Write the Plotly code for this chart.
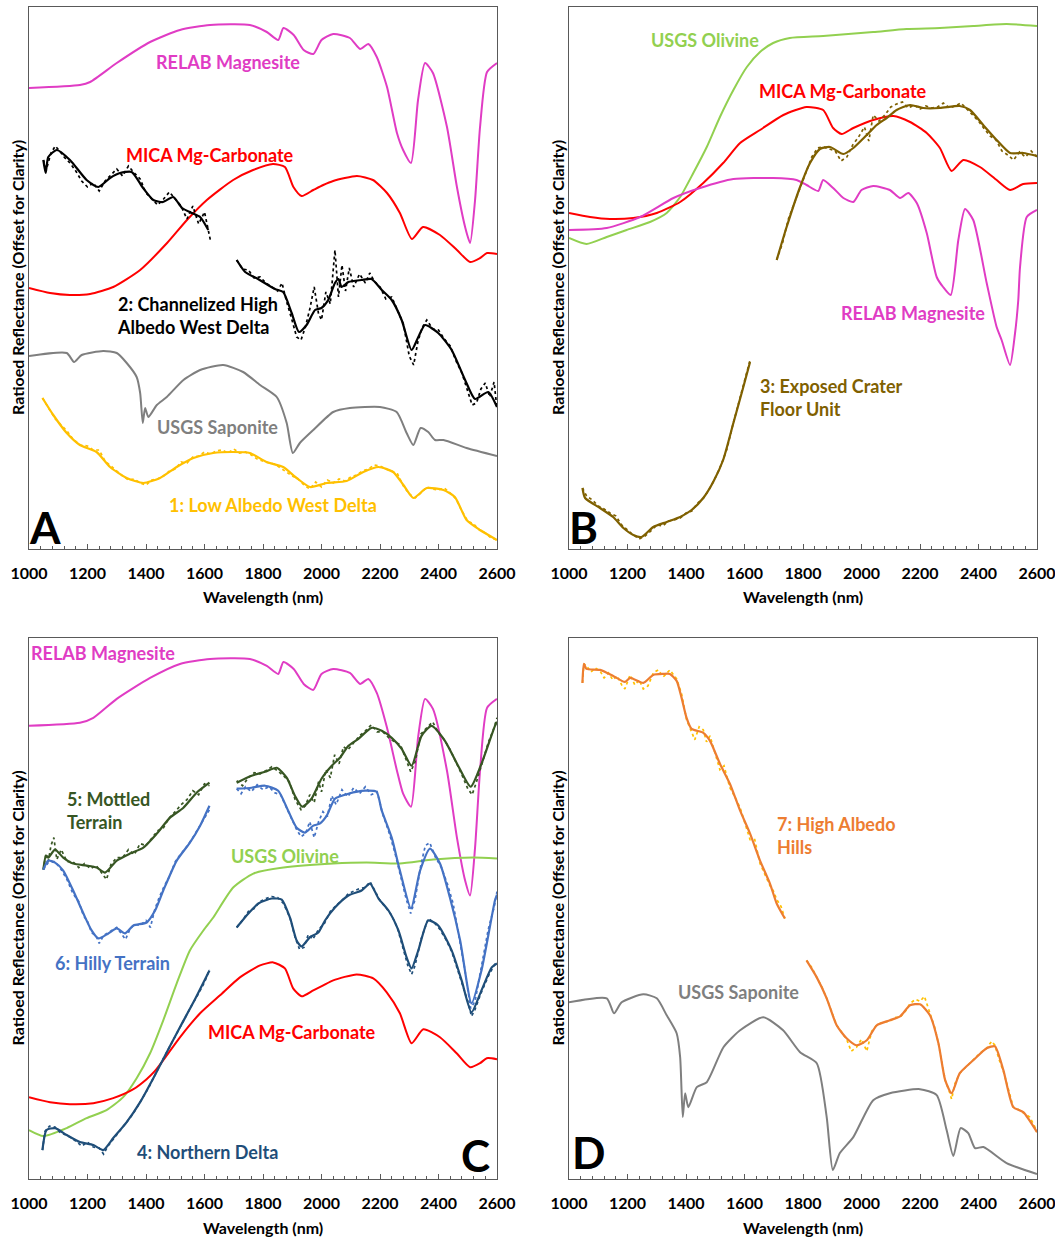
import plotly.graph_objects as go

# ---------------------------------------------------------------------------
# Spectra (wavelength in nm, ratioed reflectance in arbitrary offset units)
# ---------------------------------------------------------------------------

# ----- Panel A -----
a_mag_wl = [1000, 1174, 1209, 1300, 1414, 1516, 1619, 1755, 1813, 1852, 1870, 1905, 1939, 1972, 2000, 2040,
            2097, 2132, 2160, 2189, 2224, 2258, 2279, 2306, 2330, 2354, 2381, 2429, 2463, 2491, 2508, 2525,
            2542, 2566, 2600]
a_mag = [461, 464, 467, 486, 507, 519, 524, 524, 517, 509, 521, 514, 499, 495, 509, 515,
         511, 500, 505, 492, 462, 416, 399, 386, 449, 486, 476, 422, 362, 322, 306, 349,
         422, 477, 486]

a_mica_wl = [1000, 1072, 1140, 1209, 1288, 1380, 1472, 1540, 1608, 1698, 1766, 1834, 1875, 1904, 1932, 1972,
             2006, 2040, 2121, 2176, 2224, 2268, 2309, 2347, 2405, 2463, 2508, 2542, 2566, 2600]
a_mica = [261, 256, 254, 255, 262, 279, 306, 329, 349, 369, 379, 385, 382, 362, 353, 359,
          364, 368, 373, 369, 356, 336, 310, 322, 314, 299, 287, 291, 296, 295]

sap_wl = [1000, 1129, 1154, 1180, 1254, 1300, 1334, 1368, 1380, 1389, 1397, 1408, 1437, 1471, 1528, 1585,
          1664, 1732, 1790, 1847, 1881, 1902, 1926, 1972, 2040, 2097, 2200, 2257, 2291, 2314, 2339, 2365,
          2388, 2417, 2496, 2600]
a_sap = [193, 196, 187, 194, 198, 196, 186, 172, 156, 126, 141, 132, 144, 152, 169, 179,
         184, 177, 164, 152, 126, 96, 106, 119, 137, 141, 142, 137, 116, 104, 121, 117,
         109, 109, 101, 93]

s1_wl = [1046, 1083, 1129, 1174, 1231, 1277, 1334, 1391, 1448, 1505, 1562, 1630, 1698, 1755, 1812, 1869,
         1915, 1961, 2018, 2086, 2143, 2195, 2245, 2280, 2314, 2360, 2417, 2456, 2496, 2542, 2600]
s1 = [151, 134, 116, 104, 97, 82, 71, 66, 71, 82, 91, 96, 97, 96, 87, 82,
      71, 62, 66, 68, 77, 82, 77, 64, 51, 61, 59, 52, 29, 19, 9]
s1_raw_wl = [1046, 1070, 1090, 1110, 1130, 1150, 1175, 1200, 1220, 1240, 1260, 1280, 1300, 1320, 1340, 1360,
             1380, 1400, 1420, 1440, 1460, 1480, 1500, 1520, 1540, 1560, 1580, 1600, 1620, 1640, 1660, 1680,
             1700, 1720, 1740, 1760, 1780, 1800, 1820, 1840, 1860, 1880, 1900, 1920, 1940, 1960, 1980, 2000,
             2020, 2040, 2060, 2080, 2100, 2120, 2140, 2160, 2180, 2200, 2220, 2240, 2260, 2280, 2300, 2320,
             2340, 2360, 2380, 2400, 2420, 2440, 2460, 2480, 2500, 2520, 2540, 2560, 2580, 2600]
s1_raw = [151, 140, 130, 124, 118, 110, 104, 103, 99, 99, 88, 83, 78, 73, 69, 70,
          66, 64, 69, 70, 73, 78, 80, 87, 86, 92, 93, 97, 95, 98, 99, 96,
          100, 96, 97, 94, 90, 88, 86, 85, 81, 77, 73, 70, 64, 60, 67, 62,
          69, 66, 70, 68, 72, 74, 78, 80, 84, 83, 80, 78, 75, 63, 55, 51,
          56, 62, 60, 59, 61, 56, 50, 38, 28, 25, 19, 16, 11, 9]

s2a_wl = [1049, 1057, 1066, 1095, 1140, 1197, 1237, 1277, 1311, 1351, 1390, 1425, 1458, 1493, 1523, 1557,
          1585, 1613]
s2a = [389, 376, 392, 399, 389, 369, 362, 371, 376, 377, 361, 349, 347, 352, 341, 336,
       332, 319]
s2a_raw_wl = [1049, 1060, 1075, 1090, 1105, 1120, 1140, 1160, 1180, 1200, 1220, 1240, 1260, 1280, 1300, 1320,
              1340, 1360, 1380, 1400, 1420, 1440, 1460, 1480, 1500, 1520, 1540, 1560, 1580, 1600, 1620]
s2a_raw = [389, 380, 396, 403, 398, 392, 386, 378, 368, 362, 366, 358, 368, 374, 380, 373,
           383, 376, 370, 356, 350, 344, 350, 357, 350, 343, 330, 343, 325, 337, 309]

s2b_wl = [1710, 1739, 1783, 1841, 1869, 1898, 1923, 1949, 1978, 2000, 2023, 2046, 2058, 2069, 2092, 2137,
          2171, 2206, 2240, 2274, 2308, 2331, 2354, 2399, 2445, 2491, 2525, 2570, 2600]
s2b = [289, 277, 270, 260, 257, 236, 217, 224, 239, 241, 249, 266, 270, 262, 267, 269,
       270, 259, 249, 229, 199, 212, 224, 216, 199, 169, 150, 157, 142]
s2b_raw_wl = [1710, 1730, 1750, 1770, 1790, 1810, 1830, 1850, 1865, 1880, 1900, 1915, 1930, 1945, 1960, 1975,
              1990, 2000, 2015, 2030, 2046, 2058, 2070, 2082, 2095, 2110, 2130, 2150, 2165, 2180, 2200, 2220,
              2240, 2260, 2280, 2300, 2315, 2330, 2345, 2360, 2380, 2400, 2420, 2440, 2460, 2480, 2500, 2515,
              2530, 2545, 2560, 2575, 2590, 2600]
s2b_raw = [289, 280, 279, 271, 272, 266, 262, 258, 266, 248, 228, 212, 209, 222, 240, 262,
           235, 229, 257, 245, 299, 252, 284, 258, 281, 262, 275, 266, 276, 268, 262, 250,
           252, 238, 225, 193, 184, 208, 222, 229, 220, 219, 210, 203, 188, 176, 158, 144,
           146, 160, 166, 152, 167, 140]

# ----- Panel B -----
b_olv_wl = [1000, 1060, 1129, 1197, 1277, 1334, 1380, 1425, 1471, 1516, 1562, 1608, 1653, 1698, 1755, 1869,
            2040, 2154, 2268, 2382, 2496, 2600]
b_olv = [311, 305, 312, 319, 327, 336, 352, 376, 402, 432, 459, 482, 497, 506, 511, 513,
         517, 520, 521, 523, 525, 523]

b_mica_wl = [1000, 1072, 1140, 1220, 1300, 1380, 1459, 1527, 1585, 1653, 1733, 1812, 1869, 1903, 1932, 1972,
             2040, 2109, 2166, 2223, 2268, 2308, 2348, 2405, 2462, 2508, 2553, 2600]
b_mica = [336, 332, 330, 331, 336, 347, 366, 386, 406, 419, 434, 442, 439, 421, 415, 421,
          429, 433, 427, 416, 401, 378, 389, 382, 369, 359, 365, 366]

b_mag_wl = [1000, 1129, 1243, 1357, 1448, 1562, 1698, 1778, 1812, 1852, 1869, 1903, 1938, 1972, 2000, 2040,
            2097, 2132, 2160, 2189, 2223, 2257, 2279, 2305, 2331, 2354, 2382, 2428, 2462, 2479, 2508, 2525,
            2536, 2542, 2565, 2600]
b_mag = [319, 321, 332, 351, 361, 370, 371, 369, 364, 358, 369, 361, 351, 347, 359, 363,
         359, 351, 356, 346, 316, 272, 262, 254, 309, 340, 329, 266, 222, 209, 184, 216,
         249, 282, 332, 339]

s3a_wl = [1046, 1055, 1106, 1151, 1186, 1220, 1248, 1288, 1334, 1380, 1419, 1459, 1493, 1527, 1562, 1596, 1619]
s3a = [61, 51, 41, 32, 21, 14, 12, 22, 27, 32, 39, 51, 67, 89, 126, 162, 187]
s3a_raw_wl = [1046, 1060, 1080, 1100, 1120, 1140, 1160, 1180, 1200, 1220, 1240, 1260, 1280, 1300, 1320, 1340,
              1360, 1380, 1400, 1420, 1440, 1460, 1480, 1500, 1520, 1540, 1560, 1580, 1600, 1620]
s3a_raw = [61, 53, 49, 43, 40, 36, 33, 24, 19, 14, 10, 13, 18, 24, 23, 28,
           29, 31, 36, 38, 46, 51, 60, 71, 84, 100, 124, 146, 168, 190]

s3b_wl = [1710, 1744, 1790, 1824, 1858, 1892, 1938, 1972, 2018, 2052, 2086, 2120, 2166, 2211, 2268, 2336,
          2371, 2416, 2462, 2508, 2553, 2600]
s3b = [289, 322, 362, 386, 400, 402, 395, 401, 414, 424, 431, 439, 444, 441, 441, 443,
       439, 424, 409, 396, 396, 393]
s3b_raw_wl = [1710, 1730, 1750, 1770, 1790, 1810, 1830, 1850, 1870, 1890, 1910, 1930, 1950, 1970, 1990, 2010,
              2025, 2040, 2060, 2080, 2100, 2120, 2140, 2160, 2180, 2200, 2220, 2240, 2260, 2280, 2300, 2320,
              2340, 2360, 2380, 2400, 2420, 2440, 2460, 2480, 2500, 2520, 2540, 2560, 2580, 2600]
s3b_raw = [289, 306, 330, 345, 362, 376, 392, 401, 402, 400, 398, 388, 392, 404, 412, 422,
           408, 434, 428, 434, 442, 445, 447, 441, 444, 440, 443, 441, 442, 446, 441, 443,
           446, 440, 434, 428, 420, 413, 409, 398, 394, 389, 397, 392, 398, 392]

# ----- Panel C -----
c_mag_wl = [1000, 1174, 1220, 1300, 1414, 1516, 1619, 1755, 1813, 1852, 1870, 1905, 1939, 1972, 2000, 2040,
            2097, 2132, 2160, 2189, 2224, 2258, 2279, 2306, 2330, 2354, 2381, 2429, 2463, 2491, 2508, 2525,
            2542, 2566, 2600]
c_mag = [454, 457, 462, 481, 502, 516, 521, 521, 514, 506, 518, 511, 496, 490, 506, 511,
         507, 496, 501, 487, 452, 409, 386, 373, 442, 481, 471, 409, 342, 299, 284, 332,
         409, 472, 481]

c_olv_wl = [1000, 1049, 1129, 1197, 1265, 1322, 1368, 1414, 1459, 1505, 1550, 1596, 1630, 1698, 1767, 1870,
            2040, 2154, 2268, 2382, 2519, 2600]
c_olv = [49, 43, 51, 61, 69, 82, 101, 126, 159, 196, 229, 249, 262, 292, 306, 312,
         316, 317, 316, 320, 322, 321]

c_mica_wl = [1000, 1072, 1140, 1220, 1288, 1357, 1402, 1430, 1459, 1516, 1585, 1653, 1721, 1790, 1835, 1875,
             1903, 1932, 1972, 2006, 2040, 2120, 2177, 2223, 2268, 2308, 2348, 2405, 2462, 2508, 2542, 2565,
             2600]
c_mica = [82, 77, 75, 76, 81, 90, 100, 108, 119, 142, 166, 184, 202, 214, 217, 211,
          191, 183, 189, 194, 199, 205, 201, 187, 166, 136, 150, 142, 126, 112, 116, 121,
          120]

s4a_wl = [1046, 1060, 1089, 1129, 1174, 1220, 1254, 1288, 1334, 1380, 1425, 1471, 1516, 1562, 1617]
s4a = [29, 49, 51, 44, 37, 34, 29, 41, 57, 77, 101, 127, 152, 177, 209]
s4a_raw_wl = [1046, 1055, 1070, 1089, 1105, 1120, 1140, 1160, 1180, 1200, 1220, 1240, 1255, 1270, 1290, 1310,
              1334, 1350, 1370, 1390, 1410, 1425, 1440, 1460, 1480, 1500, 1520, 1540, 1560, 1580, 1600, 1617]
s4a_raw = [29, 48, 53, 52, 47, 45, 42, 38, 33, 37, 32, 31, 25, 33, 41, 48,
           57, 63, 72, 82, 92, 101, 110, 121, 132, 143, 154, 166, 176, 186, 197, 210]

s4b_wl = [1710, 1750, 1784, 1830, 1864, 1892, 1915, 1932, 1960, 1989, 2012, 2046, 2092, 2137, 2166, 2195,
          2229, 2263, 2291, 2308, 2331, 2365, 2399, 2445, 2479, 2513, 2547, 2582, 2600]
s4b = [252, 266, 276, 281, 280, 262, 239, 233, 242, 247, 259, 272, 284, 289, 296, 281,
       269, 249, 222, 211, 229, 259, 254, 229, 199, 167, 189, 212, 216]
s4b_raw_wl = [1710, 1730, 1750, 1770, 1790, 1810, 1830, 1850, 1870, 1892, 1910, 1925, 1940, 1955, 1970, 1990,
              2010, 2030, 2050, 2070, 2092, 2110, 2130, 2150, 2166, 2180, 2200, 2220, 2240, 2260, 2280, 2295,
              2308, 2320, 2340, 2365, 2385, 2405, 2425, 2445, 2465, 2485, 2500, 2513, 2525, 2545, 2570, 2590, 2600]
s4b_raw = [252, 259, 268, 271, 278, 281, 283, 282, 276, 262, 242, 230, 232, 245, 240, 250,
           256, 268, 274, 279, 286, 288, 291, 292, 298, 290, 279, 272, 264, 251, 230, 214,
           205, 214, 240, 261, 257, 250, 240, 228, 210, 193, 178, 163, 170, 186, 203, 214, 218]

s5a_wl = [1049, 1058, 1066, 1089, 1117, 1151, 1197, 1231, 1260, 1300, 1345, 1391, 1437, 1482, 1528, 1573, 1617]
s5a = [310, 324, 322, 330, 322, 316, 314, 312, 307, 319, 326, 332, 346, 362, 372, 387, 397]
s5a_raw_wl = [1049, 1058, 1066, 1075, 1085, 1095, 1110, 1130, 1150, 1170, 1190, 1210, 1230, 1250, 1265, 1280,
              1300, 1320, 1340, 1360, 1380, 1400, 1420, 1440, 1460, 1480, 1500, 1520, 1540, 1560, 1580, 1600, 1617]
s5a_raw = [310, 326, 318, 334, 342, 320, 330, 318, 318, 312, 316, 311, 314, 306, 300, 315,
           322, 322, 330, 325, 336, 334, 342, 349, 352, 362, 368, 375, 380, 389, 385, 396, 394]

s5b_wl = [1710, 1761, 1807, 1847, 1881, 1909, 1934, 1966, 2000, 2035, 2063, 2092, 2126, 2171, 2206, 2240,
          2274, 2308, 2342, 2376, 2422, 2467, 2510, 2547, 2593, 2600]
s5b = [397, 404, 408, 412, 402, 384, 373, 381, 401, 414, 422, 434, 441, 452, 449, 442,
       431, 414, 444, 454, 439, 414, 393, 416, 454, 458]
s5b_raw_wl = [1710, 1730, 1750, 1770, 1790, 1810, 1830, 1850, 1870, 1890, 1910, 1930, 1945, 1960, 1975, 1990,
              2000, 2015, 2030, 2045, 2060, 2075, 2090, 2110, 2130, 2150, 2170, 2190, 2210, 2230, 2250, 2270,
              2290, 2305, 2320, 2340, 2360, 2380, 2400, 2420, 2440, 2460, 2480, 2500, 2515, 2530, 2550, 2570,
              2590, 2600]
s5b_raw = [399, 394, 402, 407, 406, 409, 413, 409, 404, 398, 380, 370, 374, 385, 377, 398,
           388, 410, 402, 425, 416, 433, 430, 437, 444, 449, 455, 448, 448, 442, 438, 435,
           420, 408, 418, 446, 452, 458, 447, 440, 430, 418, 405, 391, 385, 398, 418, 437,
           452, 462]

s6a_wl = [1049, 1066, 1089, 1117, 1151, 1186, 1214, 1237, 1271, 1300, 1328, 1357, 1402, 1431, 1459, 1505,
          1550, 1585, 1617]
s6a = [310, 319, 317, 309, 289, 266, 249, 241, 246, 251, 246, 254, 257, 269, 289, 319,
       337, 354, 374]
s6a_raw_wl = [1049, 1066, 1089, 1110, 1130, 1150, 1170, 1186, 1200, 1214, 1230, 1240, 1255, 1271, 1285, 1300,
              1315, 1330, 1345, 1360, 1380, 1400, 1415, 1430, 1445, 1460, 1480, 1500, 1520, 1540, 1560, 1580,
              1600, 1617]
s6a_raw = [310, 317, 318, 310, 300, 286, 278, 264, 258, 247, 243, 236, 244, 247, 250, 252,
           246, 240, 250, 255, 254, 259, 252, 270, 282, 292, 303, 318, 326, 333, 342, 352,
           362, 370]

s6b_wl = [1710, 1761, 1807, 1852, 1886, 1915, 1943, 1972, 1994, 2018, 2046, 2092, 2149, 2188, 2206, 2240,
          2268, 2306, 2337, 2371, 2405, 2439, 2474, 2513, 2547, 2593, 2600]
s6b = [391, 392, 394, 389, 369, 352, 347, 354, 356, 364, 381, 386, 389, 388, 369, 342,
       309, 271, 309, 331, 316, 282, 239, 176, 209, 279, 285]
s6b_raw_wl = [1710, 1725, 1740, 1760, 1780, 1800, 1820, 1840, 1860, 1880, 1900, 1915, 1930, 1945, 1960, 1975,
              1990, 2005, 2020, 2035, 2050, 2070, 2090, 2110, 2130, 2150, 2170, 2190, 2210, 2230, 2250, 2270,
              2290, 2305, 2320, 2340, 2355, 2370, 2390, 2410, 2430, 2450, 2470, 2490, 2510, 2525, 2545, 2570,
              2590, 2600]
s6b_raw = [391, 386, 393, 388, 395, 390, 393, 387, 385, 372, 360, 350, 343, 346, 358, 342,
           358, 368, 363, 384, 375, 390, 383, 392, 386, 393, 385, 388, 365, 348, 328, 305,
           280, 266, 280, 315, 334, 337, 322, 312, 296, 276, 245, 210, 171, 178, 210, 250,
           272, 288]

# ----- Panel D -----
d_sap = [177, 181, 166, 177, 185, 181, 164, 146, 122, 62, 86, 72, 92, 97, 132, 149,
         162, 149, 127, 116, 62, 9, 26, 42, 79, 86, 90, 84, 49, 23, 51, 46,
         31, 32, 16, 5]

s7a_wl = [1046, 1051, 1060, 1106, 1151, 1191, 1209, 1254, 1288, 1322, 1345, 1368, 1385, 1402, 1419, 1459,
          1482, 1516, 1550, 1585, 1619, 1653, 1687, 1710, 1738]
s7a = [497, 516, 511, 510, 504, 498, 502, 497, 505, 506, 506, 499, 482, 462, 451, 447,
       439, 416, 396, 369, 346, 319, 296, 276, 261]
s7a_raw_wl = [1046, 1051, 1060, 1075, 1090, 1106, 1120, 1135, 1150, 1165, 1180, 1191, 1209, 1225, 1240, 1254,
              1270, 1288, 1305, 1322, 1345, 1368, 1385, 1402, 1419, 1430, 1445, 1459, 1470, 1482, 1500, 1516,
              1530, 1550, 1565, 1585, 1600, 1619, 1635, 1653, 1670, 1687, 1700, 1710, 1725, 1738]
s7a_raw = [497, 516, 514, 508, 512, 509, 502, 507, 500, 504, 495, 491, 505, 495, 500, 491,
           494, 507, 510, 503, 510, 501, 486, 460, 448, 440, 453, 450, 438, 444, 426, 410,
           414, 392, 384, 372, 358, 340, 340, 316, 305, 294, 288, 280, 273, 261]

s7b_wl = [1812, 1847, 1881, 1915, 1949, 1983, 2018, 2052, 2097, 2132, 2166, 2200, 2234, 2263, 2286, 2308,
          2336, 2382, 2428, 2456, 2485, 2519, 2553, 2600]
s7b = [219, 202, 181, 154, 141, 134, 139, 154, 159, 163, 174, 175, 164, 136, 99, 86,
       106, 119, 131, 133, 109, 72, 67, 47]
s7b_raw_wl = [1812, 1830, 1847, 1865, 1881, 1900, 1915, 1930, 1949, 1965, 1983, 2000, 2018, 2035, 2052, 2070,
              2097, 2115, 2132, 2150, 2166, 2185, 2200, 2215, 2234, 2250, 2263, 2275, 2286, 2300, 2308, 2320,
              2336, 2360, 2382, 2405, 2428, 2445, 2456, 2470, 2485, 2500, 2519, 2535, 2553, 2575, 2590, 2600]
s7b_raw = [219, 212, 202, 192, 181, 165, 154, 148, 140, 128, 132, 140, 128, 148, 154, 157,
           158, 162, 162, 168, 176, 180, 178, 183, 165, 152, 136, 118, 99, 88, 80, 96,
           106, 113, 119, 126, 131, 138, 134, 120, 108, 92, 72, 70, 66, 62, 54, 47]

# ---------------------------------------------------------------------------
# Colours
# ---------------------------------------------------------------------------
MAG = "#E03CC4"
MICA = "#FF0000"
SAP = "#7F7F7F"
OLV = "#92D050"
C1 = "#FFC000"
C2 = "#000000"
C3 = "#7F6000"
C4 = "#1F4E79"
C5 = "#375623"
C6 = "#4472C4"
C7 = "#ED7D31"
FONT = "Lato"

fig = go.Figure()


def add_line(panel, wl, vals, color, width=2.0, dash="solid", smooth=True):
    ax = "" if panel == 1 else str(panel)
    fig.add_trace(go.Scatter(
        x=wl, y=vals, mode="lines", xaxis="x" + ax, yaxis="y" + ax,
        line=dict(color=color, width=width, dash=dash,
                  shape="spline" if smooth else "linear", smoothing=0.6),
        hoverinfo="skip", showlegend=False))


def add_spectrum(panel, raw_wl, raw, wl, vals, color, raw_color=None):
    add_line(panel, raw_wl, raw, raw_color or color, width=1.7, dash="dot", smooth=False)
    add_line(panel, wl, vals, color, width=2.2)


# Panel A
add_line(1, a_mag_wl, a_mag, MAG)
add_line(1, a_mica_wl, a_mica, MICA)
add_line(1, sap_wl, a_sap, SAP)
add_spectrum(1, s1_raw_wl, s1_raw, s1_wl, s1, C1)
add_spectrum(1, s2a_raw_wl, s2a_raw, s2a_wl, s2a, C2)
add_spectrum(1, s2b_raw_wl, s2b_raw, s2b_wl, s2b, C2)

# Panel B
add_line(2, b_olv_wl, b_olv, OLV)
add_line(2, b_mica_wl, b_mica, MICA)
add_line(2, b_mag_wl, b_mag, MAG)
add_spectrum(2, s3a_raw_wl, s3a_raw, s3a_wl, s3a, C3)
add_spectrum(2, s3b_raw_wl, s3b_raw, s3b_wl, s3b, C3)

# Panel C
add_line(3, c_mag_wl, c_mag, MAG)
add_line(3, c_olv_wl, c_olv, OLV)
add_line(3, c_mica_wl, c_mica, MICA)
add_spectrum(3, s5a_raw_wl, s5a_raw, s5a_wl, s5a, C5)
add_spectrum(3, s5b_raw_wl, s5b_raw, s5b_wl, s5b, C5)
add_spectrum(3, s6a_raw_wl, s6a_raw, s6a_wl, s6a, C6)
add_spectrum(3, s6b_raw_wl, s6b_raw, s6b_wl, s6b, C6)
add_spectrum(3, s4a_raw_wl, s4a_raw, s4a_wl, s4a, C4)
add_spectrum(3, s4b_raw_wl, s4b_raw, s4b_wl, s4b, C4)

# Panel D
add_line(4, sap_wl, d_sap, SAP)
add_spectrum(4, s7a_raw_wl, s7a_raw, s7a_wl, s7a, C7, raw_color=C1)
add_spectrum(4, s7b_raw_wl, s7b_raw, s7b_wl, s7b, C7, raw_color=C1)

# ---------------------------------------------------------------------------
# Axes
# ---------------------------------------------------------------------------
W, H = 1055, 1239
dom_x = {1: (29, 497), 2: (569, 1037), 3: (29, 497), 4: (569, 1037)}
dom_y = {1: (7, 549), 2: (7, 549), 3: (638, 1179), 4: (638, 1179)}
AXCOL = "#595959"

layout = dict(
    width=W, height=H, margin=dict(l=0, r=0, t=0, b=0, autoexpand=False),
    paper_bgcolor="white", plot_bgcolor="white",
    font=dict(family=FONT, color="black"),
    showlegend=False,
)
for p in range(1, 5):
    ax = "" if p == 1 else str(p)
    x0, x1 = dom_x[p]
    y0, y1 = dom_y[p]
    layout["xaxis" + ax] = dict(
        domain=[x0 / W, x1 / W], anchor="y" + ax, range=[1000, 2600], automargin=False,
        tickmode="linear", tick0=1000, dtick=200,
        ticks="inside", ticklen=5, tickwidth=1, tickcolor=AXCOL,
        minor=dict(dtick=40, tick0=1000, ticks="inside", ticklen=3, tickwidth=1, tickcolor=AXCOL),
        showline=True, linecolor=AXCOL, linewidth=1.2, mirror=True,
        showgrid=False, zeroline=False,
        tickfont=dict(family=FONT, size=16, color="black", weight="bold"),
        ticklabelstandoff=10, ticklabeloverflow="allow",
    )
    layout["yaxis" + ax] = dict(
        domain=[1 - y1 / H, 1 - y0 / H], anchor="x" + ax, range=[0, 542], automargin=False,
        showline=True, linecolor=AXCOL, linewidth=1.2, mirror=True,
        showgrid=False, zeroline=False, showticklabels=False, ticks="",
    )
fig.update_layout(**layout)

# ---------------------------------------------------------------------------
# Text labels
# ---------------------------------------------------------------------------
anns = []


def label(panel, x, y, text, color, size=18, xanchor="center", align="center"):
    ax = "" if panel == 1 else str(panel)
    anns.append(dict(x=x, y=y, xref="x" + ax, yref="y" + ax, text="<b>" + text + "</b>",
                     showarrow=False, xanchor=xanchor, yanchor="middle", align=align,
                     font=dict(family=FONT, size=size, color=color)))


# Panel A
label(1, 1680, 487, "RELAB Magnesite", MAG)
label(1, 1619, 394, "MICA Mg-Carbonate", MICA)
label(1, 1294, 233, "2: Channelized High<br>Albedo West Delta", C2, xanchor="left", align="left")
label(1, 1643, 122, "USGS Saponite", SAP)
label(1, 1834, 44, "1: Low Albedo West Delta", C1)
label(1, 1055, 22, "A", "black", size=44)

# Panel B
label(2, 1465, 509, "USGS Olivine", OLV)
label(2, 1937, 458, "MICA Mg-Carbonate", MICA)
label(2, 2176, 236, "RELAB Magnesite", MAG)
label(2, 1646, 151, "3: Exposed Crater<br>Floor Unit", C3, xanchor="left", align="left")
label(2, 1048, 22, "B", "black", size=44)

# Panel C
label(3, 1253, 527, "RELAB Magnesite", MAG)
label(3, 1123, 369, "5: Mottled<br>Terrain", C5, xanchor="left", align="left")
label(3, 1875, 324, "USGS Olivine", OLV)
label(3, 1284, 216, "6: Hilly Terrain", C6)
label(3, 1899, 147, "MICA Mg-Carbonate", MICA)
label(3, 1609, 27, "4: Northern Delta", C4)
label(3, 2525, 24, "C", "black", size=44)

# Panel D
label(4, 1578, 187, "USGS Saponite", SAP)
label(4, 1704, 344, "7: High Albedo<br>Hills", C7, xanchor="left", align="left")
label(4, 1065, 27, "D", "black", size=44)

# Axis titles
for p in range(1, 5):
    x0, x1 = dom_x[p]
    y0, y1 = dom_y[p]
    anns.append(dict(x=(x0 + x1) / 2 / W, y=1 - (y1 + 48) / H, xref="paper", yref="paper",
                     text="<b>Wavelength (nm)</b>", showarrow=False, xanchor="center", yanchor="middle",
                     font=dict(family=FONT, size=16, color="black")))
    anns.append(dict(x=(x0 - 12) / W, y=1 - (y0 + y1) / 2 / H, xref="paper", yref="paper",
                     text="<b>Ratioed Reflectance (Offset for Clarity)</b>", textangle=-90,
                     showarrow=False, xanchor="center", yanchor="middle",
                     font=dict(family=FONT, size=16, color="black")))

fig.update_layout(annotations=anns)
fig.write_html("out.html")
